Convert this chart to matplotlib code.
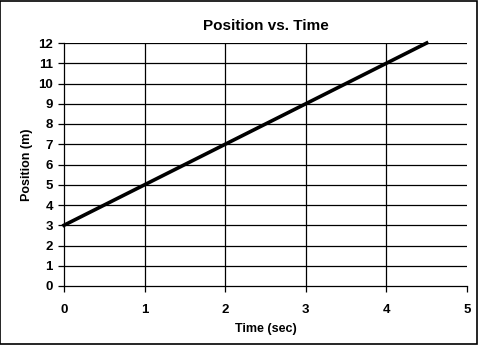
import matplotlib
matplotlib.use("Agg")
import matplotlib.pyplot as plt
from matplotlib.patches import Rectangle

time_sec = [0, 1, 2, 3, 4, 4.5]
position_m = [3, 5, 7, 9, 11, 12]
x_ticks = [0, 1, 2, 3, 4, 5]
y_ticks = list(range(0, 13))

plt.rcParams['font.family'] = ['Liberation Sans', 'DejaVu Sans']

fig = plt.figure(figsize=(4.78, 3.45), dpi=100)
fig.patch.set_facecolor('white')
fig.add_artist(Rectangle((0.001, 0.0015), 0.997, 0.996, transform=fig.transFigure,
                         fill=False, edgecolor='black', linewidth=1.2))

ax = fig.add_axes([64/478, 59/345, 403/478, 243/345])
ax.set_xlim(0, 5)
ax.set_ylim(0, 12)
ax.set_xticks(x_ticks)
ax.set_yticks(y_ticks)
for v in y_ticks[1:]:
    ax.axhline(v, color='black', linewidth=0.9, zorder=1)
for v in x_ticks[1:-1]:
    ax.axvline(v, color='black', linewidth=0.9, zorder=1)
ax.plot(time_sec, position_m, color='black', linewidth=2.6, zorder=3, clip_on=False)

for s in ['top', 'right']:
    ax.spines[s].set_visible(False)
for s in ['left', 'bottom']:
    ax.spines[s].set_linewidth(0.9)
ax.tick_params(direction='out', length=4, width=0.9, labelsize=9.5, pad=4)
for lbl in ax.get_xticklabels() + ax.get_yticklabels():
    lbl.set_fontweight('bold')
ax.tick_params(axis='x', pad=9)

ax.set_title('Position vs. Time', fontsize=11, fontweight='bold', pad=9)
ax.set_xlabel('Time (sec)', fontsize=9, fontweight='bold', labelpad=5)
ax.set_ylabel('Position (m)', fontsize=9, fontweight='bold', labelpad=4)

fig.savefig('out.png', dpi=100)
